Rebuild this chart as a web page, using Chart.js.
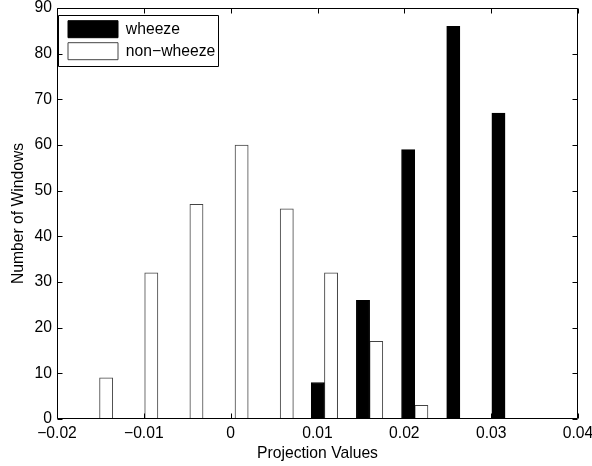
<!doctype html>
<html lang="en">
    <head>
        <meta charset="UTF-8" />
        <title>Projection Values Histogram</title>
        <script src="https://cdn.jsdelivr.net/npm/chart.js"></script>
        <style>
            body {
                margin: 0;
                background: #fff;
            }
            #chart-container {
                width: 592px;
                height: 466px;
            }
        </style>
    </head>
    <body>
        <div id="chart-container">
            <canvas id="histChart"></canvas>
        </div>

        <script>
            // bin centres (projection values) and counts per class
            const binCenters = [-0.0151, -0.0099, -0.0047, 0.0005, 0.0057, 0.0108, 0.016, 0.0212, 0.0264, 0.0316];
            const wheeze = [0, 0, 0, 0, 0, 8, 26, 59, 86, 67];
            const nonWheeze = [9, 32, 47, 60, 46, 32, 17, 3, 0, 0];
            const xTickLabels = ["\u22120.02", "\u22120.01", "0", "0.01", "0.02", "0.03", "0.04"];
            const yTickLabels = ["0", "10", "20", "30", "40", "50", "60", "70", "80", "90"];

            const FONT_SIZE = 15.7;
            Chart.defaults.font.family = "'Liberation Sans', Arial, sans-serif";
            Chart.defaults.font.size = FONT_SIZE;
            Chart.defaults.color = "#000";

            // matlab style box with inward ticks, plus a frame round the legend
            const matlabAxes = {
                id: "matlabAxes",
                afterLayout(chart) {
                    const lg = chart.legend;
                    lg.left = chart.chartArea.left + 6;
                    lg.top = chart.chartArea.top + 7.7;
                },
                afterDraw(chart) {
                    const c = chart.ctx;
                    const xs = chart.scales.x;
                    const ys = chart.scales.y;
                    const L = Math.round(xs.left) + 0.5;
                    const R = Math.round(xs.right) - 0.5;
                    const T = Math.round(ys.top) + 0.5;
                    const B = Math.round(ys.bottom) - 0.5;
                    c.save();
                    c.strokeStyle = "#000";
                    c.lineWidth = 1;
                    c.beginPath();
                    c.moveTo(L, T);
                    c.lineTo(R, T);
                    c.lineTo(R, B);
                    c.lineTo(L, B);
                    c.closePath();
                    for (let i = 0; i < xs.ticks.length; i++) {
                        const px = Math.round(xs.getPixelForValue(xs.ticks[i].value)) + 0.5;
                        c.moveTo(px, B);
                        c.lineTo(px, B - 5);
                        c.moveTo(px, T);
                        c.lineTo(px, T + 5);
                    }
                    for (let i = 0; i < ys.ticks.length; i++) {
                        const py = Math.round(ys.getPixelForValue(ys.ticks[i].value)) + 0.5;
                        c.moveTo(L, py);
                        c.lineTo(L + 5, py);
                        c.moveTo(R, py);
                        c.lineTo(R - 5, py);
                    }
                    c.stroke();

                    // legend frame
                    const lg = chart.legend;
                    c.font = FONT_SIZE + "px 'Liberation Sans'";
                    const tw = Math.max(...lg.legendItems.map((it) => c.measureText(it.text).width));
                    const x0 = Math.round(lg.left - 5) + 0.5;
                    const y0 = Math.round(lg.top - 1) + 0.5;
                    const x1 = Math.round(lg.left + 5 + 50 + FONT_SIZE / 2 + tw + 3) + 0.5;
                    const y1 = y0 + 51;
                    c.beginPath();
                    c.rect(x0, y0, x1 - x0, y1 - y0);
                    c.stroke();
                    c.restore();
                },
            };

            const ctx = document.getElementById("histChart").getContext("2d");
            new Chart(ctx, {
                type: "bar",
                data: {
                    labels: binCenters,
                    datasets: [
                        {
                            label: "wheeze",
                            data: wheeze,
                            backgroundColor: "#000",
                            borderColor: "#000",
                            borderWidth: 1,
                        },
                        {
                            label: "non\u2212wheeze",
                            data: nonWheeze,
                            backgroundColor: "#fff",
                            borderColor: "#444",
                            borderWidth: 1,
                        },
                    ],
                },
                options: {
                    responsive: true,
                    maintainAspectRatio: false,
                    animation: false,
                    barThickness: 13.2,
                    layout: {
                        padding: { top: 8, right: 14, left: 0, bottom: 0 },
                    },
                    plugins: {
                        tooltip: { enabled: false },
                        legend: {
                            position: "chartArea",
                            align: "start",
                            labels: {
                                boxWidth: 50,
                                boxHeight: 17,
                                padding: 5,
                                color: "#000",
                            },
                        },
                    },
                    scales: {
                        x: {
                            type: "linear",
                            min: -0.02,
                            max: 0.04,
                            offset: false,
                            grid: { display: false, drawTicks: false },
                            border: { display: false },
                            ticks: {
                                stepSize: 0.01,
                                padding: 5,
                                maxRotation: 0,
                                autoSkip: false,
                                callback: (v, i) => xTickLabels[i],
                            },
                            title: {
                                display: true,
                                text: "Projection Values",
                                padding: { top: 0, bottom: 3 },
                            },
                            afterFit: (s) => {
                                s.height = 47;
                                s.paddingLeft = 0;
                                s.paddingRight = 0;
                            },
                        },
                        y: {
                            min: 0,
                            max: 90,
                            grid: { display: false, drawTicks: false },
                            border: { display: false },
                            ticks: {
                                stepSize: 10,
                                padding: 5,
                                callback: (v, i) => yTickLabels[i],
                            },
                            title: {
                                display: true,
                                text: "Number of Windows",
                                padding: { top: 9, bottom: 0 },
                            },
                            afterFit: (s) => {
                                s.width = 57;
                                s.paddingTop = 0;
                                s.paddingBottom = 0;
                            },
                        },
                    },
                },
                plugins: [matlabAxes],
            });
        </script>
    </body>
</html>
